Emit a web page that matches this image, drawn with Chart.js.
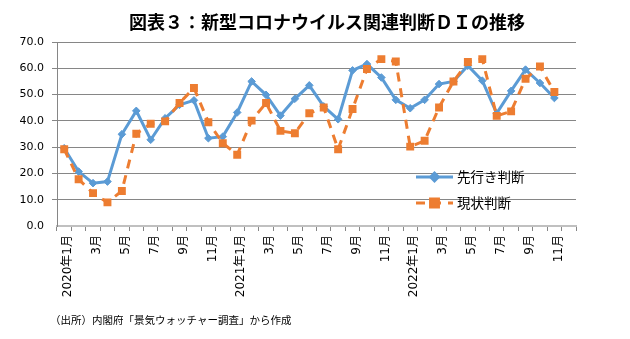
<!DOCTYPE html>
<html>
<head>
<meta charset="utf-8">
<script src="https://cdn.jsdelivr.net/npm/chart.js@4"></script>
<style>
  body { margin: 0; background: #fff; }
  #wrap { position: relative; width: 630px; height: 339px; }
  #title {
    position: absolute; left: 12px; top: 8px; width: 630px; text-align: center;
    font: bold 18px "Noto Sans CJK JP", sans-serif; color: #000;
  }
  #note {
    position: absolute; left: 50px; top: 312px;
    font: 10.5px "Noto Sans CJK JP", sans-serif; color: #000;
  }
  canvas { position: absolute; left: 0; top: 0; }
</style>
</head>
<body>
<div id="wrap">
  <canvas id="grafico" width="630" height="339"></canvas>
  <div id="title">図表３：新型コロナウイルス関連判断ＤＩの推移</div>
  <div id="note">（出所）内閣府「景気ウォッチャー調査」から作成</div>
</div>
<script>
// 2020年1月〜2022年12月 (12月はまだ値なし)
const months = [
  '2020年1月', '2月', '3月', '4月', '5月', '6月', '7月', '8月', '9月', '10月', '11月', '12月',
  '2021年1月', '2月', '3月', '4月', '5月', '6月', '7月', '8月', '9月', '10月', '11月', '12月',
  '2022年1月', '2月', '3月', '4月', '5月', '6月', '7月', '8月', '9月', '10月', '11月', '12月'
];

const sakiyuki = [
  29.6, 20.7, 16.3, 16.9, 34.9, 43.8, 32.8, 41.0, 46.1, 47.8, 33.4, 34.0,
  43.2, 55.0, 49.9, 42.0, 48.4, 53.5, 45.5, 40.6, 59.2, 61.6, 56.5, 48.0,
  44.8, 48.0, 54.0, 55.0, 61.0, 55.3, 42.9, 51.4, 59.5, 54.4, 48.7, null
];

const genjo = [
  29.2, 17.8, 12.5, 9.0, 13.3, 35.1, 38.9, 39.8, 46.8, 52.5, 39.5, 31.5,
  27.1, 40.1, 46.8, 36.2, 35.3, 42.9, 45.1, 29.2, 44.5, 59.7, 63.5, 62.6,
  30.2, 32.4, 45.1, 55.0, 62.4, 63.5, 41.9, 43.6, 56.0, 60.7, 51.0, null
];

const yTicks = [0, 10, 20, 30, 40, 50, 60, 70];

const fontFamily = "'DejaVu Sans', 'Noto Sans CJK JP', sans-serif";
const gridGray = '#868686';

// 凡例はプロットの中に置く
const legendInside = {
  id: 'legendInside',
  afterDatasetsDraw(chart) {
    const ctx = chart.ctx;
    const x0 = 416, x1 = 453, tx = 457;
    const rows = [177, 203];
    chart.data.datasets.forEach((ds, i) => {
      const y = rows[i];
      ctx.save();
      ctx.strokeStyle = ds.borderColor;
      ctx.lineWidth = ds.borderWidth;
      ctx.setLineDash(ds.borderDash || []);
      ctx.beginPath();
      ctx.moveTo(x0, y);
      ctx.lineTo(x1, y);
      ctx.stroke();
      ctx.setLineDash([]);
      Chart.helpers.drawPoint(ctx, {
        pointStyle: ds.pointStyle,
        radius: ds.pointRadius,
        borderWidth: 1
      }, (x0 + x1) / 2, y);
      ctx.fillStyle = ds.pointBackgroundColor;
      ctx.fill();
      ctx.fillStyle = '#000';
      ctx.font = "13.5px 'Noto Sans CJK JP', sans-serif";
      ctx.textBaseline = 'middle';
      ctx.fillText(ds.label, tx, y);
      ctx.restore();
    });
  }
};

new Chart(document.getElementById('grafico'), {
  type: 'line',
  data: {
    labels: months,
    datasets: [
      {
        label: '先行き判断',
        data: sakiyuki,
        borderColor: '#5B9BD5',
        backgroundColor: '#5B9BD5',
        borderWidth: 3,
        pointStyle: 'rectRot',
        pointRadius: 3.8,
        pointBackgroundColor: '#5B9BD5',
        pointBorderColor: '#5B9BD5',
        pointBorderWidth: 1,
        tension: 0,
        order: 1
      },
      {
        label: '現状判断',
        data: genjo,
        borderColor: '#ED7D31',
        backgroundColor: '#ED7D31',
        borderWidth: 3,
        borderDash: [9, 7],
        pointStyle: 'rect',
        pointRadius: 5.6,
        pointBackgroundColor: '#ED7D31',
        pointBorderColor: '#ED7D31',
        pointBorderWidth: 0,
        tension: 0,
        order: 0
      }
    ]
  },
  options: {
    responsive: false,
    animation: false,
    devicePixelRatio: 1,
    layout: { padding: { top: 42, right: 54, left: 0, bottom: 0 } },
    plugins: {
      legend: { display: false },
      tooltip: { enabled: false }
    },
    scales: {
      x: {
        offset: true,
        afterFit: (s) => { s.height = 113; },
        grid: {
          offset: true,
          drawOnChartArea: false,
          drawTicks: true,
          tickLength: 5,
          color: gridGray
        },
        border: { color: '#c0c0c0', width: 2, dash: [2, 1] },
        ticks: {
          autoSkip: false,
          maxRotation: 90,
          minRotation: 90,
          padding: 4,
          labelOffset: 4,
          color: '#000',
          font: { family: fontFamily, size: 12 },
          callback: (v, i) => (i % 2 === 0 ? months[i] : '')
        }
      },
      y: {
        min: yTicks[0],
        max: yTicks[yTicks.length - 1],
        afterFit: (s) => { s.width = 57; },
        afterBuildTicks: (s) => { s.ticks = yTicks.map((v) => ({ value: v })); },
        grid: {
          color: (c) => (c.tick && c.tick.value === 0 ? 'rgba(0,0,0,0)' : gridGray),
          tickLength: 5
        },
        border: { color: gridGray, width: 1 },
        ticks: {
          padding: 8,
          color: '#000',
          font: { family: fontFamily, size: 11 },
          callback: (v) => Number(v).toFixed(1)
        }
      }
    }
  },
  plugins: [legendInside]
});
</script>
</body>
</html>
